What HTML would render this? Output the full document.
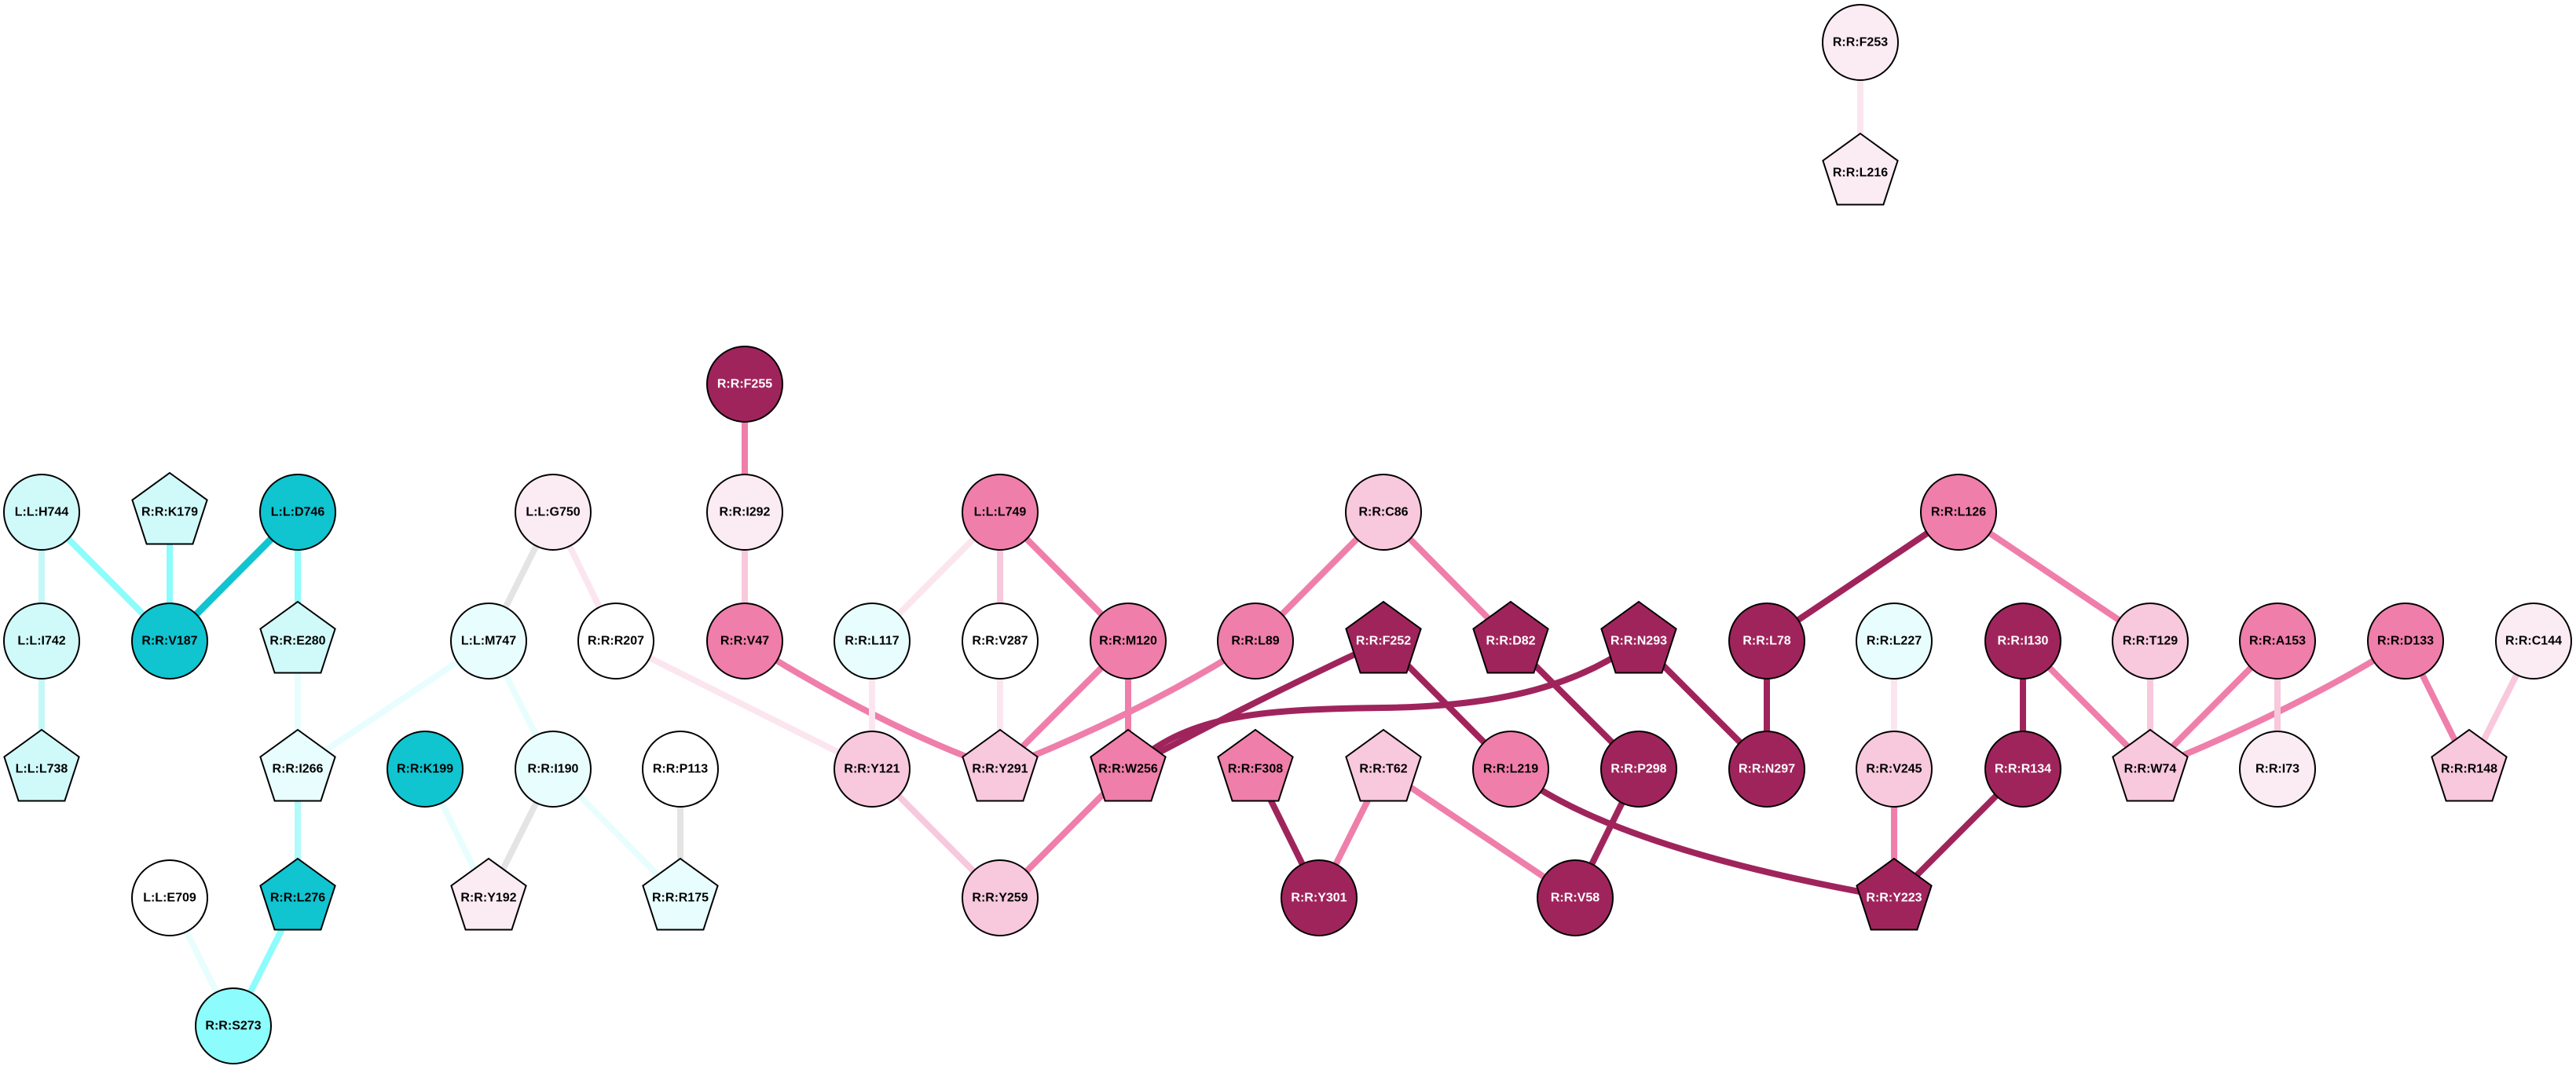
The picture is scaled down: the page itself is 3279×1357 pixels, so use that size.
<!DOCTYPE html>
<html><head><meta charset="utf-8"><style>
html,body{margin:0;padding:0;background:#fff;}
svg{display:block}
text{font-family:"Liberation Sans",Arial,sans-serif;font-weight:bold;font-size:16px;text-anchor:middle;dominant-baseline:central}
.w{fill:#fff}
</style></head><body>
<svg width="3279" height="1357" viewBox="0 0 3279 1357" xmlns="http://www.w3.org/2000/svg">
<defs>
<polygon id="p" points="0,-50 47.6,-15.5 29.4,40.5 -29.4,40.5 -47.6,-15.5" stroke="#000" stroke-width="2"/>
</defs>
<g fill="none" stroke-width="8">
<line x1="2368" y1="54" x2="2368" y2="220" stroke="#fbe6ef"/>
<line x1="948" y1="489" x2="948" y2="652" stroke="#ef7eaa"/>
<line x1="948" y1="652" x2="948" y2="816" stroke="#f8c8dc"/>
<line x1="53" y1="652" x2="53" y2="816" stroke="#c4f8f8"/>
<line x1="53" y1="652" x2="216" y2="816" stroke="#8cfcfc"/>
<line x1="216" y1="652" x2="216" y2="816" stroke="#8cfcfc"/>
<line x1="379" y1="652" x2="216" y2="816" stroke="#10c4d0" stroke-width="9"/>
<line x1="379" y1="652" x2="379" y2="816" stroke="#8cfcfc"/>
<line x1="53" y1="816" x2="53" y2="979" stroke="#c4f8f8"/>
<line x1="379" y1="816" x2="379" y2="979" stroke="#e8fefe"/>
<line x1="622" y1="816" x2="379" y2="979" stroke="#e8fefe"/>
<line x1="379" y1="979" x2="379" y2="1143" stroke="#b0fafa"/>
<line x1="379" y1="1143" x2="297" y2="1306" stroke="#8cfcfc"/>
<line x1="216" y1="1143" x2="297" y2="1306" stroke="#e8fefe"/>
<line x1="704" y1="652" x2="622" y2="816" stroke="#e4e4e4"/>
<line x1="704" y1="652" x2="784" y2="816" stroke="#fbe6ef"/>
<line x1="622" y1="816" x2="704" y2="979" stroke="#e8fefe"/>
<line x1="541" y1="979" x2="622" y2="1143" stroke="#e8fefe"/>
<line x1="704" y1="979" x2="622" y2="1143" stroke="#e4e4e4"/>
<line x1="704" y1="979" x2="866" y2="1143" stroke="#e8fefe"/>
<line x1="866" y1="979" x2="866" y2="1143" stroke="#e4e4e4"/>
<line x1="784" y1="816" x2="1110" y2="979" stroke="#fbe6ef"/>
<path d="M948,816 Q1130,930 1273,979" stroke="#ef7eaa"/>
<line x1="1273" y1="652" x2="1110" y2="816" stroke="#fbe6ef"/>
<line x1="1273" y1="652" x2="1273" y2="816" stroke="#f8c8dc"/>
<line x1="1273" y1="652" x2="1436" y2="816" stroke="#ef7eaa"/>
<line x1="1110" y1="816" x2="1110" y2="979" stroke="#fbe6ef"/>
<line x1="1273" y1="816" x2="1273" y2="979" stroke="#fbe6ef"/>
<line x1="1436" y1="816" x2="1273" y2="979" stroke="#ef7eaa"/>
<line x1="1436" y1="816" x2="1436" y2="979" stroke="#ef7eaa"/>
<path d="M1598,816 Q1450,910 1273,979" stroke="#ef7eaa"/>
<line x1="1761" y1="652" x2="1598" y2="816" stroke="#ef7eaa"/>
<line x1="1761" y1="652" x2="1923" y2="816" stroke="#ef7eaa"/>
<line x1="1110" y1="979" x2="1273" y2="1143" stroke="#f8c8dc"/>
<line x1="1436" y1="979" x2="1273" y2="1143" stroke="#ef7eaa"/>
<path d="M1761,816 Q1600,890 1436,979" stroke="#a0245c"/>
<path d="M1436,979 C1510,910 1600,903 1760,901 S2010,870 2086,816" stroke="#a0245c"/>
<line x1="1761" y1="816" x2="1923" y2="979" stroke="#a0245c"/>
<line x1="1923" y1="816" x2="2086" y2="979" stroke="#a0245c"/>
<line x1="2086" y1="816" x2="2249" y2="979" stroke="#a0245c"/>
<line x1="1598" y1="979" x2="1679" y2="1143" stroke="#a0245c"/>
<line x1="1761" y1="979" x2="1679" y2="1143" stroke="#ef7eaa"/>
<line x1="1761" y1="979" x2="2005" y2="1143" stroke="#ef7eaa"/>
<line x1="2086" y1="979" x2="2005" y2="1143" stroke="#a0245c"/>
<path d="M1923,979 Q2050,1080 2411,1143" stroke="#a0245c"/>
<line x1="2493" y1="652" x2="2249" y2="816" stroke="#a0245c"/>
<line x1="2493" y1="652" x2="2737" y2="816" stroke="#ef7eaa"/>
<line x1="2249" y1="816" x2="2249" y2="979" stroke="#a0245c"/>
<line x1="2411" y1="816" x2="2411" y2="979" stroke="#fbe6ef"/>
<line x1="2411" y1="979" x2="2411" y2="1143" stroke="#ef7eaa"/>
<line x1="2575" y1="816" x2="2575" y2="979" stroke="#a0245c"/>
<line x1="2575" y1="979" x2="2411" y2="1143" stroke="#a0245c"/>
<line x1="2575" y1="816" x2="2737" y2="979" stroke="#ef7eaa"/>
<line x1="2737" y1="816" x2="2737" y2="979" stroke="#f8c8dc"/>
<line x1="2899" y1="816" x2="2737" y2="979" stroke="#ef7eaa"/>
<path d="M3062,816 Q2930,900 2737,979" stroke="#ef7eaa"/>
<line x1="2899" y1="816" x2="2899" y2="979" stroke="#f8c8dc"/>
<line x1="3062" y1="816" x2="3143" y2="979" stroke="#ef7eaa"/>
<line x1="3225" y1="816" x2="3143" y2="979" stroke="#f8c8dc"/>
</g>
<g stroke="#000" stroke-width="2">
<circle cx="2368" cy="54" r="48" fill="#fbebf3"/>
<use href="#p" x="2368" y="220" fill="#fbebf3"/>
<circle cx="948" cy="489" r="48" fill="#a0245c"/>
<circle cx="53" cy="652" r="48" fill="#d0fafa"/>
<use href="#p" x="216" y="652" fill="#d0fafa"/>
<circle cx="379" cy="652" r="48" fill="#10c4d0"/>
<circle cx="704" cy="652" r="48" fill="#fbebf3"/>
<circle cx="948" cy="652" r="48" fill="#fbebf3"/>
<circle cx="1273" cy="652" r="48" fill="#ef7eaa"/>
<circle cx="1761" cy="652" r="48" fill="#f8c8dc"/>
<circle cx="2493" cy="652" r="48" fill="#ef7eaa"/>
<circle cx="53" cy="816" r="48" fill="#d0fafa"/>
<circle cx="216" cy="816" r="48" fill="#10c4d0"/>
<use href="#p" x="379" y="816" fill="#d0fafa"/>
<circle cx="622" cy="816" r="48" fill="#e8fefe"/>
<circle cx="784" cy="816" r="48" fill="#ffffff"/>
<circle cx="948" cy="816" r="48" fill="#ef7eaa"/>
<circle cx="1110" cy="816" r="48" fill="#e8fefe"/>
<circle cx="1273" cy="816" r="48" fill="#ffffff"/>
<circle cx="1436" cy="816" r="48" fill="#ef7eaa"/>
<circle cx="1598" cy="816" r="48" fill="#ef7eaa"/>
<use href="#p" x="1761" y="816" fill="#a0245c"/>
<use href="#p" x="1923" y="816" fill="#a0245c"/>
<use href="#p" x="2086" y="816" fill="#a0245c"/>
<circle cx="2249" cy="816" r="48" fill="#a0245c"/>
<circle cx="2411" cy="816" r="48" fill="#e8fefe"/>
<circle cx="2575" cy="816" r="48" fill="#a0245c"/>
<circle cx="2737" cy="816" r="48" fill="#f8c8dc"/>
<circle cx="2899" cy="816" r="48" fill="#ef7eaa"/>
<circle cx="3062" cy="816" r="48" fill="#ef7eaa"/>
<circle cx="3225" cy="816" r="48" fill="#fbebf3"/>
<use href="#p" x="53" y="979" fill="#d0fafa"/>
<use href="#p" x="379" y="979" fill="#e8fefe"/>
<circle cx="541" cy="979" r="48" fill="#10c4d0"/>
<circle cx="704" cy="979" r="48" fill="#e8fefe"/>
<circle cx="866" cy="979" r="48" fill="#ffffff"/>
<circle cx="1110" cy="979" r="48" fill="#f8c8dc"/>
<use href="#p" x="1273" y="979" fill="#f8c8dc"/>
<use href="#p" x="1436" y="979" fill="#ef7eaa"/>
<use href="#p" x="1598" y="979" fill="#ef7eaa"/>
<use href="#p" x="1761" y="979" fill="#f8c8dc"/>
<circle cx="1923" cy="979" r="48" fill="#ef7eaa"/>
<circle cx="2086" cy="979" r="48" fill="#a0245c"/>
<circle cx="2249" cy="979" r="48" fill="#a0245c"/>
<circle cx="2411" cy="979" r="48" fill="#f8c8dc"/>
<circle cx="2575" cy="979" r="48" fill="#a0245c"/>
<use href="#p" x="2737" y="979" fill="#f8c8dc"/>
<circle cx="2899" cy="979" r="48" fill="#fbebf3"/>
<use href="#p" x="3143" y="979" fill="#f8c8dc"/>
<circle cx="216" cy="1143" r="48" fill="#ffffff"/>
<use href="#p" x="379" y="1143" fill="#10c4d0"/>
<use href="#p" x="622" y="1143" fill="#fbebf3"/>
<use href="#p" x="866" y="1143" fill="#e8fefe"/>
<circle cx="1273" cy="1143" r="48" fill="#f8c8dc"/>
<circle cx="1679" cy="1143" r="48" fill="#a0245c"/>
<circle cx="2005" cy="1143" r="48" fill="#a0245c"/>
<use href="#p" x="2411" y="1143" fill="#a0245c"/>
<circle cx="297" cy="1306" r="48" fill="#8cfcfc"/>
</g>
<g>
<text x="2368" y="54">R:R:F253</text>
<text x="2368" y="220">R:R:L216</text>
<text x="948" y="489" class="w">R:R:F255</text>
<text x="53" y="652">L:L:H744</text>
<text x="216" y="652">R:R:K179</text>
<text x="379" y="652">L:L:D746</text>
<text x="704" y="652">L:L:G750</text>
<text x="948" y="652">R:R:I292</text>
<text x="1273" y="652">L:L:L749</text>
<text x="1761" y="652">R:R:C86</text>
<text x="2493" y="652">R:R:L126</text>
<text x="53" y="816">L:L:I742</text>
<text x="216" y="816">R:R:V187</text>
<text x="379" y="816">R:R:E280</text>
<text x="622" y="816">L:L:M747</text>
<text x="784" y="816">R:R:R207</text>
<text x="948" y="816">R:R:V47</text>
<text x="1110" y="816">R:R:L117</text>
<text x="1273" y="816">R:R:V287</text>
<text x="1436" y="816">R:R:M120</text>
<text x="1598" y="816">R:R:L89</text>
<text x="1761" y="816" class="w">R:R:F252</text>
<text x="1923" y="816" class="w">R:R:D82</text>
<text x="2086" y="816" class="w">R:R:N293</text>
<text x="2249" y="816" class="w">R:R:L78</text>
<text x="2411" y="816">R:R:L227</text>
<text x="2575" y="816" class="w">R:R:I130</text>
<text x="2737" y="816">R:R:T129</text>
<text x="2899" y="816">R:R:A153</text>
<text x="3062" y="816">R:R:D133</text>
<text x="3225" y="816">R:R:C144</text>
<text x="53" y="979">L:L:L738</text>
<text x="379" y="979">R:R:I266</text>
<text x="541" y="979">R:R:K199</text>
<text x="704" y="979">R:R:I190</text>
<text x="866" y="979">R:R:P113</text>
<text x="1110" y="979">R:R:Y121</text>
<text x="1273" y="979">R:R:Y291</text>
<text x="1436" y="979">R:R:W256</text>
<text x="1598" y="979">R:R:F308</text>
<text x="1761" y="979">R:R:T62</text>
<text x="1923" y="979">R:R:L219</text>
<text x="2086" y="979" class="w">R:R:P298</text>
<text x="2249" y="979" class="w">R:R:N297</text>
<text x="2411" y="979">R:R:V245</text>
<text x="2575" y="979" class="w">R:R:R134</text>
<text x="2737" y="979">R:R:W74</text>
<text x="2899" y="979">R:R:I73</text>
<text x="3143" y="979">R:R:R148</text>
<text x="216" y="1143">L:L:E709</text>
<text x="379" y="1143">R:R:L276</text>
<text x="622" y="1143">R:R:Y192</text>
<text x="866" y="1143">R:R:R175</text>
<text x="1273" y="1143">R:R:Y259</text>
<text x="1679" y="1143" class="w">R:R:Y301</text>
<text x="2005" y="1143" class="w">R:R:V58</text>
<text x="2411" y="1143" class="w">R:R:Y223</text>
<text x="297" y="1306">R:R:S273</text>
</g>
</svg>
</body></html>
